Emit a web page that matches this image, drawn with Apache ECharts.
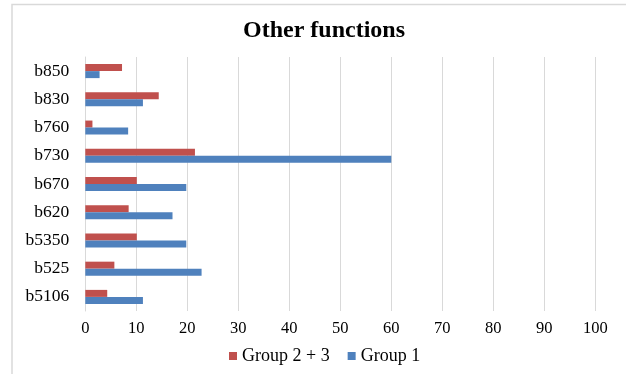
<!DOCTYPE html>
<html>
<head>
<meta charset="utf-8">
<style>
  html, body { margin: 0; padding: 0; background: #ffffff; }
  #chart { width: 626px; height: 374px; }
</style>
<script src="https://cdn.jsdelivr.net/npm/echarts@6/dist/echarts.min.js"></script>
</head>
<body>
<div id="chart"></div>
<script>
// Categories listed bottom-to-top along the vertical axis
const categories = ['b5106', 'b525', 'b5350', 'b620', 'b670', 'b730', 'b760', 'b830', 'b850'];
const group1 = [11.3, 22.8, 19.8, 17.1, 19.8, 60, 8.4, 11.3, 2.8];
const group23 = [4.3, 5.7, 10.1, 8.5, 10.1, 21.5, 1.4, 14.4, 7.2];
const xTicks = [0, 10, 20, 30, 40, 50, 60, 70, 80, 90, 100];

const serif = '"Liberation Serif", "DejaVu Serif", serif';

const chart = echarts.init(document.getElementById('chart'), null, { renderer: 'canvas' });

chart.setOption({
  animation: false,
  backgroundColor: '#ffffff',
  title: {
    text: 'Other functions',
    left: 238,
    top: 14,
    textStyle: { fontFamily: serif, fontSize: 24, fontWeight: 'bold', color: '#000000' }
  },
  graphic: [{
    type: 'polyline',
    shape: { points: [[12, 374], [12, 4.5], [626, 4.5]] },
    style: { stroke: '#d9d9d9', lineWidth: 1.5, fill: null },
    silent: true
  }],
  legend: {
    data: ['Group 2 + 3', 'Group 1'],
    bottom: 4,
    left: 224,
    itemWidth: 8,
    itemHeight: 8,
    itemGap: 18,
    icon: 'rect',
    textStyle: { fontFamily: serif, fontSize: 18, color: '#000000' }
  },
  grid: { left: 85.3, right: 30.7, top: 57, bottom: 63, containLabel: false },
  xAxis: {
    type: 'value',
    min: xTicks[0],
    max: xTicks[xTicks.length - 1],
    interval: 10,
    axisLine: { show: false },
    axisTick: { show: false },
    splitLine: { show: true, lineStyle: { color: '#d9d9d9', width: 1 } },
    axisLabel: { fontFamily: serif, fontSize: 16.5, color: '#000000', margin: 9 }
  },
  yAxis: {
    type: 'category',
    data: categories,
    axisLine: { show: true, lineStyle: { color: '#d9d9d9', width: 1 } },
    axisTick: { show: false },
    axisLabel: { fontFamily: serif, fontSize: 17.5, color: '#000000', margin: 16 }
  },
  series: [
    {
      name: 'Group 2 + 3',
      type: 'bar',
      data: group23,
      barWidth: 7,
      barGap: '0%',
      barCategoryGap: '50%',
      itemStyle: { color: '#c0504d' }
    },
    {
      name: 'Group 1',
      type: 'bar',
      data: group1,
      barWidth: 7,
      barGap: '0%',
      barCategoryGap: '50%',
      itemStyle: { color: '#4f81bd' }
    }
  ]
});
</script>
</body>
</html>
